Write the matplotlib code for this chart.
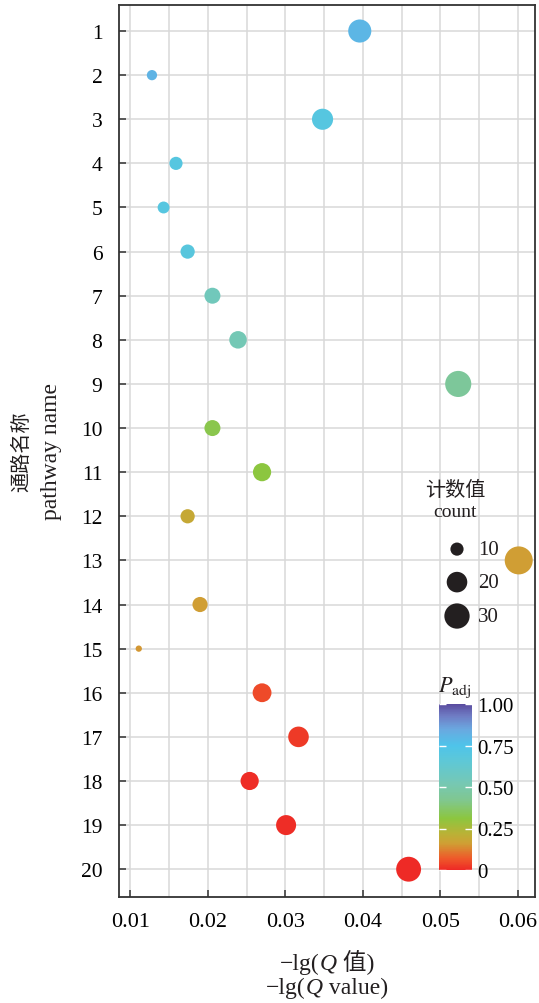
import numpy as np
import matplotlib
matplotlib.use("Agg")
import matplotlib.pyplot as plt
from matplotlib.colors import LinearSegmentedColormap, Normalize
from matplotlib.cm import ScalarMappable
from matplotlib.offsetbox import TextArea, HPacker, AnchoredOffsetbox
from matplotlib.ticker import MultipleLocator

# pathway index, -lg(Q), gene count, adjusted P
pathway = np.arange(1, 21)
neg_lg_q = [0.0396, 0.0128, 0.0348, 0.0159, 0.0143, 0.0174, 0.0206, 0.0239, 0.0523, 0.0206,
            0.0270, 0.0174, 0.0601, 0.0190, 0.0111, 0.0270, 0.0317, 0.0254, 0.0301, 0.0459]
counts = [25, 8, 21, 10, 9, 11, 13, 15, 32, 13,
          16, 11, 37, 12, 7, 17, 20, 16, 19, 29]
p_adj = [0.80, 0.81, 0.70, 0.70, 0.70, 0.69, 0.55, 0.53, 0.45, 0.33,
         0.31, 0.19, 0.16, 0.16, 0.15, 0.05, 0.025, 0.006, 0.005, 0.0]

legend_counts = [10, 20, 30]
cbar_ticks = [0, 0.25, 0.5, 0.75, 1.0]
cbar_labels = ["0", "0.25", "0.50", "0.75", "1.00"]

DPI = 100
W, H = 539, 1004
serif = ["Liberation Serif", "Noto Sans CJK SC"]
plt.rcParams["font.family"] = serif
plt.rcParams["mathtext.fontset"] = "stix"

cmap = LinearSegmentedColormap.from_list("padj", [
    (0.00, "#ee2a26"), (0.07, "#ee5a2a"), (0.16, "#cfa034"), (0.22, "#b9b236"),
    (0.31, "#8cc63f"), (0.42, "#80c78f"), (0.52, "#76c8b3"), (0.65, "#5fc8d5"),
    (0.75, "#4ec4ea"), (0.85, "#6aa8e0"), (0.93, "#6f7cc4"), (1.00, "#5a4c9f")])
norm = Normalize(0, 1)

counts = np.array(counts, dtype=float)
cmin, cmax = counts.min(), counts.max()


def marker_area(c, dmin=6.3, dmax=28.0):
    frac = (np.asarray(c, dtype=float) - cmin) / (cmax - cmin)
    d = (dmin + (dmax - dmin) * np.sqrt(np.clip(frac, 0, None))) * 72 / DPI
    return d ** 2


fig = plt.figure(figsize=(W / DPI, H / DPI), dpi=DPI)
ax = fig.add_axes([119 / W, 1 - 898 / H, 416 / W, 892 / H])

ax.scatter(neg_lg_q, pathway, s=marker_area(counts), c=p_adj, cmap=cmap, norm=norm,
           linewidths=0, zorder=3)

ax.set_xlim(0.00855, 0.0622)
ax.set_ylim(20.63, 0.41)
ax.set_yticks(pathway)
ax.xaxis.set_major_locator(MultipleLocator(0.01))
ax.xaxis.set_minor_locator(MultipleLocator(0.005))
ax.xaxis.set_major_formatter(lambda v, p: f"{v:.2f}")
ax.grid(True, which="both", color="#d9d9d9", linewidth=1.1, zorder=0)
ax.set_axisbelow(True)
ax.tick_params(axis="both", which="major", direction="in", length=5, width=1.1, color="#333333")
ax.tick_params(axis="x", which="minor", length=0)
ax.tick_params(axis="y", labelsize=15.5, pad=12)
ax.tick_params(axis="x", labelsize=16, pad=11)
for sp in ax.spines.values():
    sp.set_color("#333333")
    sp.set_linewidth(1.3)

# x axis title in two lines, italic Q
def label_row(parts, y):
    boxes = [TextArea(t, textprops=dict(fontsize=17, family=serif, style=st, color="#231f20"))
             for t, st in parts]
    row = HPacker(children=boxes, align="baseline", pad=0, sep=0)
    anchored = AnchoredOffsetbox(loc="center", child=row, pad=0, borderpad=0, frameon=False,
                                 bbox_to_anchor=(0.5, y), bbox_transform=ax.transAxes)
    ax.add_artist(anchored)


label_row([("\u2212lg(", "normal"), ("Q", "italic"), (" 值)", "normal")], -0.072)
label_row([("\u2212lg(", "normal"), ("Q", "italic"), (" value)", "normal")], -0.101)

# y axis title
fig.text(22 / W, 1 - 452 / H, "通路名称", rotation=90, ha="center", va="center",
         fontsize=14.5, family=["Noto Sans CJK SC"], color="#231f20")
fig.text(52 / W, 1 - 452 / H, "pathway name", rotation=90, ha="center", va="center",
         fontsize=17, color="#231f20")

# size legend
ax.text(0.808, 0.457, "计数值", transform=ax.transAxes, ha="center", va="center",
        fontsize=14.5, family=["Noto Sans CJK SC"], color="#231f20")
ax.text(0.808, 0.432, "count", transform=ax.transAxes, ha="center", va="center",
        fontsize=14, color="#231f20")
leg_y = [0.390, 0.353, 0.315]
ax.scatter([0.8125] * 3, leg_y, s=marker_area(legend_counts), color="#231f20",
           linewidths=0, transform=ax.transAxes, zorder=4, clip_on=False)
for c, yy in zip(legend_counts, leg_y):
    ax.text(0.863, yy, str(c), transform=ax.transAxes, ha="left", va="center",
            fontsize=15, color="#231f20")

# colour bar for adjusted P
cax = fig.add_axes([439 / W, 1 - 871 / H, 33 / W, 166 / H])
cb = fig.colorbar(ScalarMappable(norm=norm, cmap=cmap), cax=cax)
cb.outline.set_visible(False)
cb.set_ticks(cbar_ticks)
cb.set_ticklabels(cbar_labels)
cax.tick_params(direction="in", color="white", length=5, width=1, left=True, right=True,
                labelleft=False, labelright=True, labelsize=15, pad=4)
fig.text(455 / W, 1 - 688 / H, r"$P_{\mathrm{adj}}$", ha="center", va="center",
         fontsize=16, color="#231f20")

fig.savefig("out.png", dpi=DPI)
